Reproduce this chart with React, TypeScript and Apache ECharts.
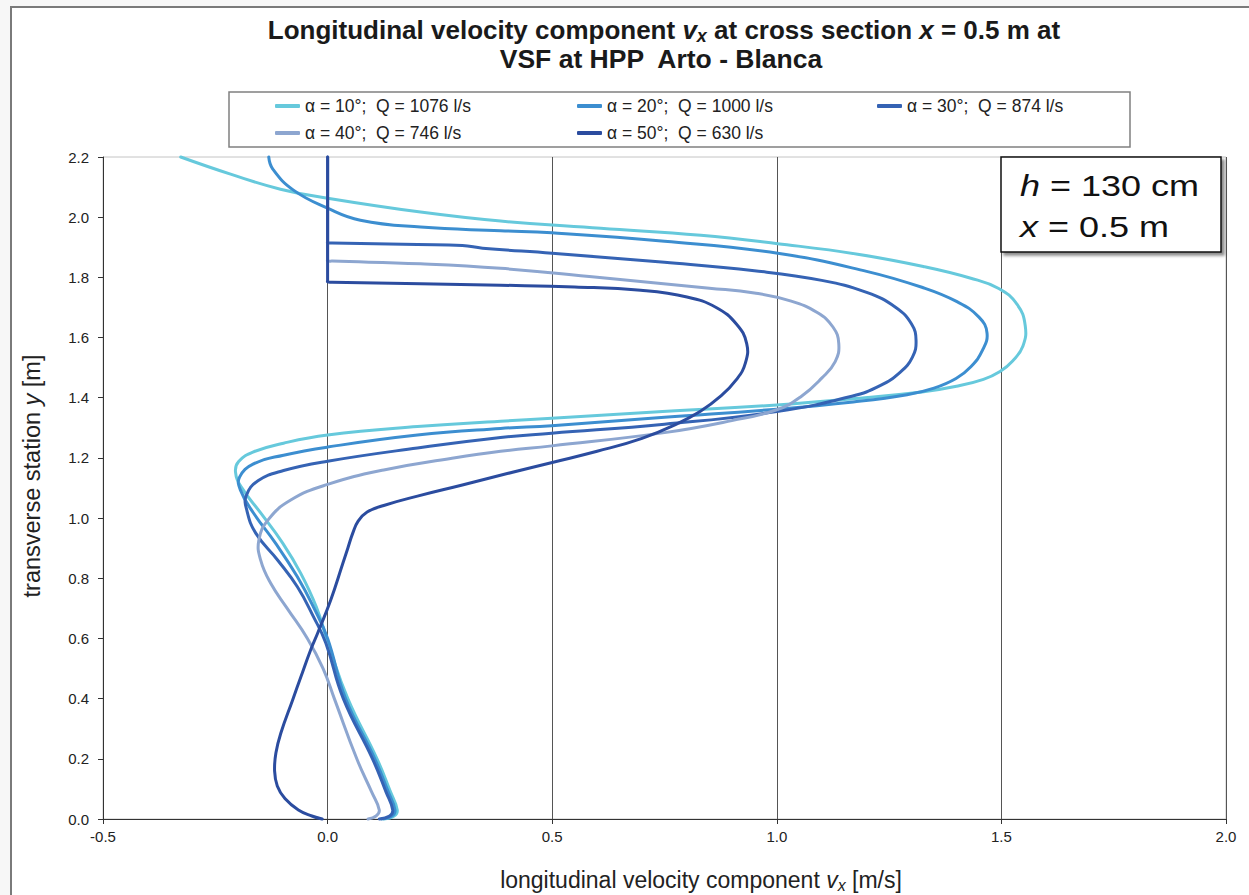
import React, { useEffect, useRef } from 'react';
import * as echarts from 'echarts';

const FONT = "'Liberation Sans', Arial, Helvetica, sans-serif";

// Legend entries and line colours
const seriesNames = [
  'α = 10°;  Q = 1076 l/s',
  'α = 20°;  Q = 1000 l/s',
  'α = 30°;  Q = 874 l/s',
  'α = 40°;  Q = 746 l/s',
  'α = 50°;  Q = 630 l/s',
];
const seriesColors = ['#66C9DC', '#3C8ED0', '#3563B4', '#8DA6D0', '#2B4C9F'];

// Axis ranges
const xMin = -0.5;
const xMax = 2.0;
const xStep = 0.5;
const yMin = 0.0;
const yMax = 2.2;
const yStep = 0.2;

// Velocity profiles: [vx (m/s), y (m)], listed from the top of the section downwards
const alpha10: [number, number][] = [
  [-0.327, 2.2], [-0.216, 2.143], [-0.105, 2.093], [0.0, 2.063], [0.207, 2.017],
  [0.385, 1.987], [0.608, 1.963], [0.831, 1.94], [1.002, 1.912], [1.18, 1.877],
  [1.33, 1.835], [1.43, 1.798], [1.494, 1.763], [1.535, 1.71], [1.553, 1.64],
  [1.548, 1.572], [1.525, 1.522], [1.497, 1.487], [1.46, 1.461], [1.4, 1.438],
  [1.323, 1.419], [1.165, 1.396], [1.0, 1.376], [0.719, 1.352], [0.499, 1.332],
  [0.385, 1.322], [0.2, 1.304], [0.0, 1.276], [-0.098, 1.249], [-0.165, 1.22],
  [-0.198, 1.188], [-0.205, 1.153], [-0.192, 1.103], [-0.149, 1.017], [-0.1, 0.917],
  [-0.06, 0.817], [-0.025, 0.704], [0.002, 0.58], [0.045, 0.4], [0.11, 0.2],
  [0.14, 0.09], [0.155, 0.03], [0.148, 0.01], [0.125, 0.0],
];
const alpha20: [number, number][] = [
  [-0.131, 2.2], [-0.122, 2.16], [-0.076, 2.09], [0.0, 2.03], [0.073, 1.99],
  [0.207, 1.967], [0.385, 1.955], [0.499, 1.948], [0.75, 1.92], [1.002, 1.88],
  [1.2, 1.82], [1.323, 1.767], [1.4, 1.72], [1.45, 1.668], [1.468, 1.615],
  [1.458, 1.558], [1.432, 1.503], [1.399, 1.464], [1.35, 1.432], [1.29, 1.41],
  [1.17, 1.386], [1.0, 1.362], [0.75, 1.335], [0.499, 1.307], [0.385, 1.298],
  [0.2, 1.276], [0.0, 1.236], [-0.098, 1.209], [-0.165, 1.18], [-0.196, 1.136],
  [-0.194, 1.093], [-0.165, 1.017], [-0.116, 0.917], [-0.067, 0.804], [-0.03, 0.7],
  [0.0, 0.6], [0.04, 0.4], [0.105, 0.2], [0.135, 0.09], [0.15, 0.03],
  [0.143, 0.01], [0.12, 0.0],
];
const alpha30: [number, number][] = [
  [0.0, 2.2], [0.0, 1.92], [0.0, 1.915], [0.01, 1.914], [0.2, 1.909],
  [0.3, 1.906], [0.345, 1.897], [0.5, 1.88], [0.75, 1.85], [0.95, 1.822],
  [1.1, 1.79], [1.2, 1.75], [1.265, 1.7], [1.3, 1.645], [1.31, 1.59],
  [1.302, 1.535], [1.275, 1.485], [1.23, 1.44], [1.167, 1.405], [1.0, 1.354],
  [0.75, 1.312], [0.499, 1.282], [0.385, 1.268], [0.2, 1.233], [0.0, 1.189],
  [-0.098, 1.158], [-0.155, 1.124], [-0.181, 1.075], [-0.18, 1.027], [-0.16, 0.95],
  [-0.111, 0.86], [-0.067, 0.771], [-0.031, 0.671], [-0.004, 0.585], [0.035, 0.4],
  [0.1, 0.2], [0.13, 0.09], [0.145, 0.03], [0.138, 0.01], [0.115, 0.0],
];
const alpha40: [number, number][] = [
  [0.0, 2.2], [0.0, 1.86], [0.0, 1.855], [0.01, 1.854], [0.207, 1.845],
  [0.385, 1.83], [0.6, 1.8], [0.85, 1.764], [0.95, 1.748], [1.03, 1.722],
  [1.09, 1.683], [1.125, 1.635], [1.138, 1.58], [1.13, 1.52], [1.1, 1.465],
  [1.055, 1.405], [1.0, 1.36], [0.9, 1.324], [0.75, 1.284], [0.499, 1.24],
  [0.385, 1.222], [0.274, 1.198], [0.125, 1.16], [0.0, 1.112], [-0.082, 1.06],
  [-0.132, 0.995], [-0.153, 0.927], [-0.149, 0.86], [-0.127, 0.784], [-0.09, 0.7],
  [-0.045, 0.6], [-0.01, 0.5], [0.015, 0.4], [0.065, 0.2], [0.098, 0.09],
  [0.115, 0.03], [0.108, 0.01], [0.09, 0.0],
];
const alpha50: [number, number][] = [
  [0.0, 2.2], [0.0, 1.79], [0.0, 1.785], [0.01, 1.784], [0.207, 1.779],
  [0.385, 1.774], [0.55, 1.768], [0.697, 1.757], [0.8, 1.735], [0.865, 1.7],
  [0.91, 1.645], [0.933, 1.58], [0.93, 1.515], [0.91, 1.46], [0.875, 1.405],
  [0.83, 1.355], [0.78, 1.315], [0.7, 1.265], [0.6, 1.222], [0.5, 1.185],
  [0.4, 1.148], [0.3, 1.11], [0.2, 1.073], [0.125, 1.042], [0.088, 1.02],
  [0.068, 0.99], [0.056, 0.95], [0.045, 0.9], [0.034, 0.85], [0.007, 0.728],
  [-0.022, 0.618], [-0.038, 0.561], [-0.06, 0.47], [-0.078, 0.395], [-0.104, 0.286],
  [-0.115, 0.22], [-0.118, 0.16], [-0.112, 0.11], [-0.095, 0.068], [-0.065, 0.03],
  [-0.035, 0.01], [-0.012, 0.0],
];

const profiles = [alpha10, alpha20, alpha30, alpha40, alpha50];

export default function App() {
  const ref = useRef<HTMLDivElement>(null);

  useEffect(() => {
    if (!ref.current) return;
    const chart = echarts.init(ref.current, undefined, { renderer: 'svg' });

    const legendSlots = [
      [275, 97], [577, 97], [877, 97],
      [275, 124], [577, 124],
    ];

    const tickLabel = {
      fontSize: 15,
      fontFamily: FONT,
      color: '#222',
    };

    // Each profile is drawn as one smooth curve through its points,
    // mapped to pixels with the cartesian axes of the grid.
    const profileSeries = profiles.map((data, i) => ({
      name: seriesNames[i],
      type: 'custom',
      coordinateSystem: 'cartesian2d',
      data,
      encode: { x: 0, y: 1 },
      z: 2 + i,
      itemStyle: { color: seriesColors[i] },
      renderItem: (params: any, api: any) => {
        if (params.dataIndex !== 0) return null;
        const points = data.map((p) => api.coord(p));
        return {
          type: 'polyline',
          shape: { points, smooth: 0.45 },
          style: {
            fill: null,
            stroke: seriesColors[i],
            lineWidth: 3,
            lineJoin: 'round',
            lineCap: 'round',
          },
        };
      },
    }));

    chart.setOption({
      animation: false,
      backgroundColor: 'transparent',
      grid: {
        left: 103,
        right: 23,
        top: 157,
        bottom: 76,
        show: true,
        borderColor: '#c4c4c4',
        borderWidth: 1,
      },
      legend: seriesNames.map((name, i) => ({
        data: [{ name, icon: 'roundRect', itemStyle: { color: seriesColors[i] } }],
        left: legendSlots[i][0],
        top: legendSlots[i][1],
        padding: 0,
        itemWidth: 25,
        itemHeight: 4,
        selectedMode: false,
        textStyle: { fontSize: 17.5, fontFamily: FONT, color: '#222' },
      })),
      xAxis: {
        type: 'value',
        min: xMin,
        max: xMax,
        interval: xStep,
        axisLine: { show: true, onZero: false, lineStyle: { color: '#333', width: 1 } },
        axisTick: { show: true, inside: false, length: 5, lineStyle: { color: '#333' } },
        axisLabel: { ...tickLabel, margin: 10, formatter: (v: number) => v.toFixed(1) },
        splitLine: { show: true, lineStyle: { color: '#555', width: 1 } },
      },
      yAxis: {
        type: 'value',
        min: yMin,
        max: yMax,
        interval: yStep,
        axisLine: { show: true, onZero: false, lineStyle: { color: '#333', width: 1 } },
        axisTick: { show: true, inside: false, length: 5, lineStyle: { color: '#333' } },
        axisLabel: { ...tickLabel, margin: 14, formatter: (v: number) => v.toFixed(1) },
        splitLine: { show: false },
      },
      series: profileSeries,
      graphic: [
        // figure frame
        {
          type: 'rect',
          z: -10,
          silent: true,
          shape: { x: 11, y: 7, width: 1300, height: 1000 },
          style: { fill: '#ffffff', stroke: '#7a7a7a', lineWidth: 2 },
        },
        // title
        {
          type: 'text',
          x: 664,
          y: 30,
          z: 10,
          style: {
            text: '{b|Longitudinal velocity component }{bi|v}{bs|x}{b| at cross section }{bi|x}{b| = 0.5 m at}',
            align: 'center',
            textAlign: 'center',
            verticalAlign: 'middle',
            textVerticalAlign: 'middle',
            rich: {
              b: { fontSize: 26, fontWeight: 'bold', fontFamily: FONT, fill: '#1a1a1a', lineHeight: 30 },
              bi: { fontSize: 26, fontWeight: 'bold', fontStyle: 'italic', fontFamily: FONT, fill: '#1a1a1a', lineHeight: 30 },
              bs: { fontSize: 18, fontWeight: 'bold', fontStyle: 'italic', fontFamily: FONT, fill: '#1a1a1a', lineHeight: 18, verticalAlign: 'bottom' },
            },
          },
        },
        {
          type: 'text',
          x: 661,
          y: 59,
          z: 10,
          style: {
            text: 'VSF at HPP  Arto - Blanca',
            align: 'center',
            textAlign: 'center',
            verticalAlign: 'middle',
            textVerticalAlign: 'middle',
            fontSize: 26.5,
            fontWeight: 'bold',
            fontFamily: FONT,
            fill: '#1a1a1a',
          },
        },
        // legend frame
        {
          type: 'rect',
          z: 5,
          silent: true,
          shape: { x: 229, y: 92, width: 901, height: 55 },
          style: { fill: 'transparent', stroke: '#808080', lineWidth: 1.5 },
        },
        // parameter box
        {
          type: 'rect',
          z: 50,
          silent: true,
          shape: { x: 1001, y: 157, width: 220, height: 95 },
          style: {
            fill: '#ffffff',
            stroke: '#111',
            lineWidth: 1.5,
            shadowBlur: 3,
            shadowOffsetX: 3,
            shadowOffsetY: 3,
            shadowColor: 'rgba(0,0,0,0.45)',
          },
        },
        {
          type: 'text',
          x: 1020,
          y: 186,
          z: 51,
          scaleX: 1.2,
          style: {
            text: '{i|h}{n| = 130 cm}',
            align: 'left',
            textAlign: 'left',
            verticalAlign: 'middle',
            textVerticalAlign: 'middle',
            rich: {
              i: { fontSize: 30, fontStyle: 'italic', fontFamily: FONT, fill: '#111' },
              n: { fontSize: 30, fontFamily: FONT, fill: '#111' },
            },
          },
        },
        {
          type: 'text',
          x: 1020,
          y: 227,
          z: 51,
          scaleX: 1.2,
          style: {
            text: '{i|x}{n| = 0.5 m}',
            align: 'left',
            textAlign: 'left',
            verticalAlign: 'middle',
            textVerticalAlign: 'middle',
            rich: {
              i: { fontSize: 30, fontStyle: 'italic', fontFamily: FONT, fill: '#111' },
              n: { fontSize: 30, fontFamily: FONT, fill: '#111' },
            },
          },
        },
        // axis names
        {
          type: 'text',
          x: 701,
          y: 880,
          z: 10,
          style: {
            text: '{n|longitudinal velocity component }{i|v}{s|x}{n| [m/s]}',
            align: 'center',
            textAlign: 'center',
            verticalAlign: 'middle',
            textVerticalAlign: 'middle',
            rich: {
              n: { fontSize: 23, fontFamily: FONT, fill: '#222', lineHeight: 27 },
              i: { fontSize: 23, fontStyle: 'italic', fontFamily: FONT, fill: '#222', lineHeight: 27 },
              s: { fontSize: 16, fontStyle: 'italic', fontFamily: FONT, fill: '#222', lineHeight: 16, verticalAlign: 'bottom' },
            },
          },
        },
        {
          type: 'text',
          x: 32,
          y: 476,
          z: 10,
          rotation: Math.PI / 2,
          style: {
            text: '{n|transverse station }{i|y}{n| [m]}',
            align: 'center',
            textAlign: 'center',
            verticalAlign: 'middle',
            textVerticalAlign: 'middle',
            rich: {
              n: { fontSize: 23.5, fontFamily: FONT, fill: '#222' },
              i: { fontSize: 23.5, fontStyle: 'italic', fontFamily: FONT, fill: '#222' },
            },
          },
        },
      ],
    });

    return () => chart.dispose();
  }, []);

  return (
    <div
      ref={ref}
      style={{ position: 'fixed', left: 0, top: 0, width: 1249, height: 895, background: '#f7f7f7' }}
    />
  );
}
